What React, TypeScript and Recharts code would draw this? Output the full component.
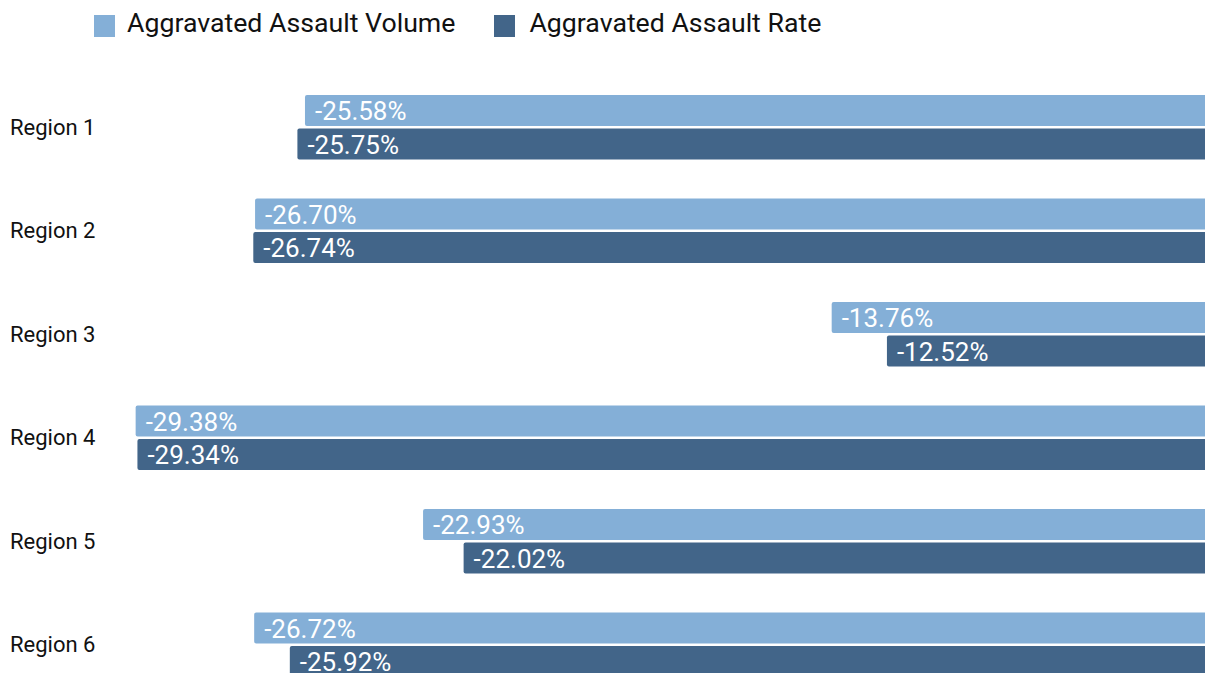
import { BarChart, Bar, XAxis, YAxis, LabelList } from "recharts";

/* =========================
   DATA
========================= */
const regions = ["Region 1", "Region 2", "Region 3", "Region 4", "Region 5", "Region 6"];
const volumeChange = [-25.58, -26.7, -13.76, -29.38, -22.93, -26.72];
const rateChange = [-25.75, -26.74, -12.52, -29.34, -22.02, -25.92];

const seriesNames = ["Aggravated Assault Volume", "Aggravated Assault Rate"];
const seriesColors = ["#84afd7", "#426589"];

const chartData = regions.map((region, i) => ({
  region,
  volume: volumeChange[i],
  rate: rateChange[i],
}));

const FONT = "Roboto, 'Noto Sans', sans-serif";

/* =========================
   TICKS / LABELS
========================= */
const RegionTick = ({ y, payload }: any) => (
  <text x={10} y={y} dy={7.8} fontSize={22} fill="#111" fontFamily={FONT} textAnchor="start">
    {payload.value}
  </text>
);

const renderValueLabel = (props: any) => {
  const vb = props.viewBox ?? {};
  const x = Number(vb.x ?? props.x);
  const y = Number(vb.y ?? props.y);
  const w = Number(vb.width ?? props.width);
  const h = Number(vb.height ?? props.height);
  const left = Math.min(x, x + w);
  const top = Math.min(y, y + h);
  const v = Number(props.value);
  return (
    <text
      x={left + 10}
      y={top + Math.abs(h) / 2 + 9.5}
      fontSize={26}
      fill="#ffffff"
      fontFamily={FONT}
      textAnchor="start"
    >
      {`${v.toFixed(2)}%`}
    </text>
  );
};

/* =========================
   COMPONENTE
========================= */
const App = () => {
  return (
    <div
      style={{
        position: "fixed",
        top: 0,
        left: 0,
        width: 1205,
        height: 673,
        overflow: "hidden",
        background: "#fff",
        fontFamily: FONT,
      }}
    >
      {/* ===== LEYENDA ===== */}
      <div
        style={{
          position: "absolute",
          top: 10,
          left: 94,
          display: "flex",
          alignItems: "flex-start",
          fontSize: 26.7,
          lineHeight: "26px",
          color: "#111",
          whiteSpace: "nowrap",
        }}
      >
        {seriesNames.map((name, i) => (
          <div key={name} style={{ display: "flex", alignItems: "flex-start", marginLeft: i === 0 ? 0 : 39 }}>
            <div style={{ width: 21, height: 22, marginTop: 5, background: seriesColors[i] }} />
            <span style={{ marginLeft: i === 0 ? 12 : 14 }}>{name}</span>
          </div>
        ))}
      </div>

      <BarChart
        width={1210}
        height={696}
        data={chartData}
        layout="vertical"
        margin={{ top: 75, right: 0, bottom: 0, left: 0 }}
        barSize={31}
        barGap={2.5}
      >
        <XAxis type="number" domain={[-30.18, -5.27]} allowDataOverflow hide />
        <YAxis
          type="category"
          dataKey="region"
          width={100}
          axisLine={false}
          tickLine={false}
          tick={<RegionTick />}
        />
        <Bar dataKey="volume" fill={seriesColors[0]} radius={2} isAnimationActive={false}>
          <LabelList dataKey="volume" content={renderValueLabel} />
        </Bar>
        <Bar dataKey="rate" fill={seriesColors[1]} radius={2} isAnimationActive={false}>
          <LabelList dataKey="rate" content={renderValueLabel} />
        </Bar>
      </BarChart>
    </div>
  );
};

export default App;
